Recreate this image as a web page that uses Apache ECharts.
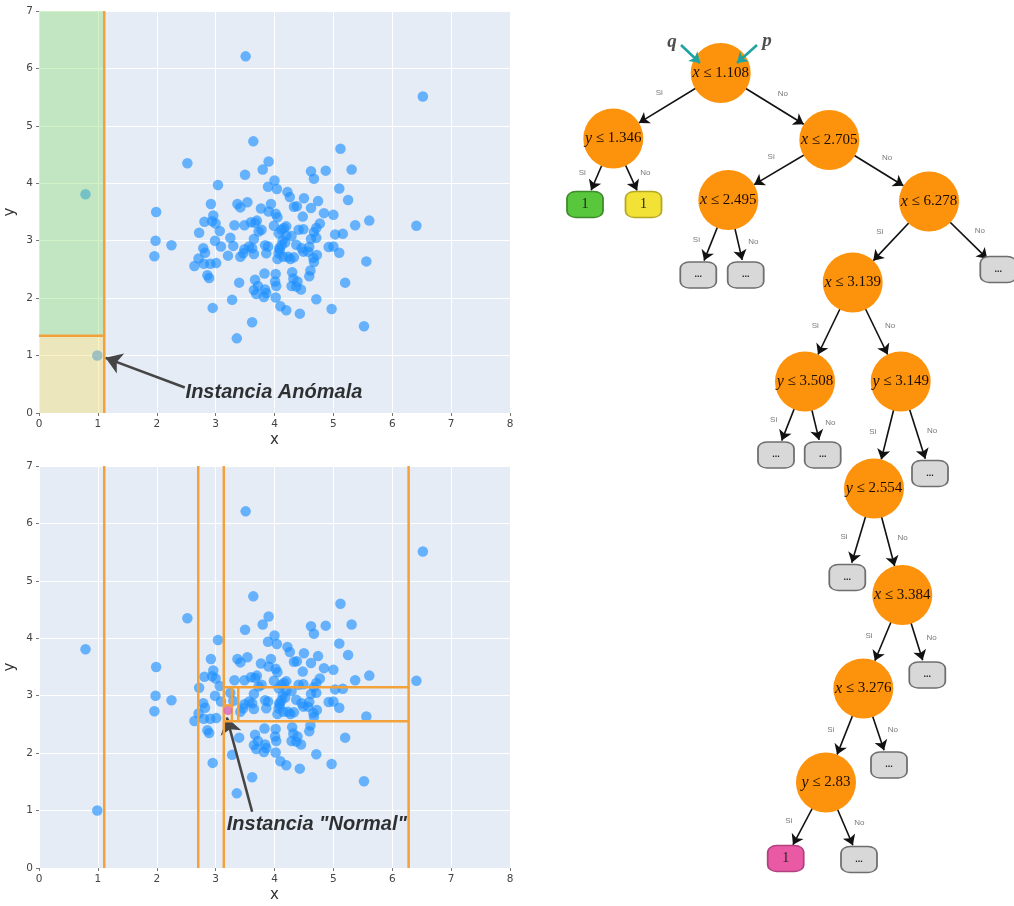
<!DOCTYPE html>
<html><head><meta charset="utf-8">
<script src="https://cdn.jsdelivr.net/npm/echarts@6/dist/echarts.min.js"></script>
<style>html,body{margin:0;padding:0;background:#fff}#c{width:1014px;height:906px}</style>
</head><body><div id="c"></div>
<script>
// ---------- scatter data ----------
const xs = [3.51,6.52,0.79,0.99,6.41,5.52,3.36,3.62,2.52,3.64,
5.12,1.99,1.98,1.96,2.25,5.61,5.56,5.31,4.87,4.62,
4.67,3.50,3.80,3.90,4.00,4.04,3.89,3.04,5.10,5.25,
4.22,4.26,4.50,4.74,4.62,4.33,4.38,2.92,3.37,3.54,
3.42,3.77,3.94,3.90,4.02,4.05,4.48,4.84,5.00,5.37,
2.96,2.81,2.94,3.32,3.49,3.60,3.70,3.73,3.99,4.16,
4.41,4.77,4.71,4.67,5.03,5.16,2.72,3.07,2.99,3.25,
3.30,3.09,3.65,3.62,3.57,3.49,3.42,3.65,4.07,4.14,
4.20,4.08,3.89,3.84,3.86,4.07,4.05,4.23,4.27,4.33,
4.37,4.46,4.49,4.59,4.62,4.66,4.72,4.67,4.92,5.10,
2.79,2.82,2.71,2.64,2.80,2.91,3.01,2.86,2.89,2.95,
3.28,3.40,3.67,3.72,3.65,3.69,3.84,3.86,3.82,3.83,
4.02,4.01,4.03,4.02,4.10,4.20,4.43,4.30,4.32,4.29,
4.39,4.45,4.59,4.61,4.71,4.97,5.20,3.00,3.67,3.78,
4.12,4.20,4.29,4.49,3.47,4.09,4.15,4.57,4.71,5.00,
4.37,4.18,4.12];
const ys = [6.21,5.51,3.81,1.00,3.26,1.51,1.30,1.58,4.35,4.73,
4.60,3.50,3.00,2.73,2.92,3.35,2.64,4.24,4.22,4.21,
4.08,4.15,4.24,4.38,4.05,3.90,3.94,3.97,3.91,3.71,
3.85,3.76,3.74,3.69,3.57,3.59,3.60,3.64,3.64,3.67,
3.58,3.56,3.64,3.51,3.47,3.41,3.42,3.48,3.45,3.27,
3.44,3.33,3.34,3.27,3.27,3.32,3.35,3.16,3.26,3.22,
3.19,3.30,3.22,3.15,3.11,3.12,3.14,3.17,3.00,3.05,
2.91,2.90,3.03,2.87,2.90,2.85,2.72,2.77,3.13,3.01,
3.09,2.87,2.90,2.92,2.78,2.78,2.68,2.72,2.68,2.71,
2.93,2.87,2.81,2.89,3.03,2.70,2.75,2.63,2.89,2.79,
2.87,2.79,2.69,2.56,2.60,2.60,2.61,2.40,2.35,1.83,
1.97,2.27,2.32,2.21,2.14,2.07,2.15,2.09,2.02,2.43,
2.42,2.29,2.21,2.01,1.86,1.79,1.73,2.45,2.34,2.21,
2.29,2.15,2.38,2.48,1.98,1.81,2.27,3.30,3.31,3.19,
3.19,3.25,3.08,3.20,2.78,2.84,2.72,2.81,3.05,2.90,
2.20,2.97,2.92];
const normalX = [3.21];
const normalY = [2.74];

// split thresholds (from the tree)
const topRegions = [ // x0, y0, x1, y1
  [0, 1.346, 1.108, 7],
  [0, 0, 1.108, 1.346]
];
const topRegionColors = ['rgba(140,220,110,0.38)', 'rgba(250,220,90,0.36)'];
const topSplits = [ // x0, y0, x1, y1
  [1.108, 0, 1.108, 7],
  [0, 1.346, 1.108, 1.346]
];
const bottomSplits = [
  [1.108, 0, 1.108, 7],
  [2.705, 0, 2.705, 7],
  [3.139, 0, 3.139, 7],
  [6.278, 0, 6.278, 7],
  [3.139, 3.149, 6.278, 3.149],
  [3.139, 2.554, 6.278, 2.554],
  [3.384, 2.554, 3.384, 3.149],
  [3.276, 2.554, 3.276, 3.149],
  [3.139, 2.83, 3.276, 2.83]
];
const topNote = {text: 'Instancia Anómala', from: [2.476, 0.445], to: [1.13, 0.96], at: [2.49, 0.353]};
const botNote = {text: 'Instancia "Normal"', from: [3.62, 0.98], to: [3.19, 2.62], at: [3.19, 0.765]};

// ---------- tree data ----------
const treeVar = ['x','y','x',null,null,'x','x',null,null,'x',null,'y','y',null,null,'y',null,null,'x','x',null,'y',null,null,null];
const treeThr = [1.108,1.346,2.705,null,null,2.495,6.278,null,null,3.139,null,3.508,3.149,null,null,2.554,null,null,3.384,3.276,null,2.83,null,null,null];
const treeLeaf = [null,null,null,'1','1',null,null,'...','...',null,'...',null,null,'...','...',null,'...','...',null,null,'...',null,'...','1','...'];
const treeLeafKind = [null,null,null,'green','yellow',null,null,'gray','gray',null,'gray',null,null,'gray','gray',null,'gray','gray',null,null,'gray',null,'gray','pink','gray'];
const treeParent = [-1,0,0,1,1,2,2,5,5,6,6,9,9,11,11,12,12,15,15,18,18,19,19,21,21];
const treeBranch = [null,'Si','No','Si','No','Si','No','Si','No','Si','No','Si','No','Si','No','Si','No','Si','No','Si','No','Si','No','Si','No'];
// layout units of the diagram space
const treeX = [720.7,613.3,829.3,585,643.5,728.3,929,698.3,745.7,852.7,998.3,805,900.7,776,822.7,874,930,847.3,902.3,863.3,927.3,826,889,785.7,859];
const treeY = [73,138.5,140,204.5,204.5,200,201.5,275,275,282.5,269.5,381.5,381.5,455,455,488.5,473.5,577.5,595,688.5,675,782.5,765,858.5,859.5];
const rootNotes = [{t:'q', at:[672,42], from:[681,45], to:[700,63]}, {t:'p', at:[767,41], from:[757,45], to:[737,63]}];

const leafStyles = {
  green: {fill:'#58c73c', stroke:'#3d8a2b'},
  yellow:{fill:'#f2e236', stroke:'#b5a820'},
  pink:  {fill:'#ea5aa4', stroke:'#b04080'},
  gray:  {fill:'#d8d8d8', stroke:'#6e6e6e'}
};

const pts = xs.map((x, i) => [x, ys[i]]);
const normalPts = normalX.map((x, i) => [x, normalY[i]]);

// tree graph nodes
const nodes = treeX.map((x, i) => {
  const isLeaf = treeLeaf[i] != null;
  if (!isLeaf) {
    return {
      name: 'n' + i, value: [x, treeY[i]], symbol: 'circle', symbolSize: 60,
      itemStyle: {color: '#fd930c'},
      label: {show: true, position: 'inside', formatter: '{i|' + treeVar[i] + '} ≤ ' + treeThr[i],
        fontFamily: 'Liberation Serif', fontSize: 15, color: '#1e0e00',
        rich: {i: {fontFamily: 'Liberation Serif', fontStyle: 'italic', fontSize: 16, color: '#1e0e00'}}}
    };
  }
  const st = leafStyles[treeLeafKind[i]];
  return {
    name: 'n' + i, value: [x, treeY[i]], symbol: 'roundRect', symbolSize: [36, 26],
    itemStyle: {color: st.fill, borderColor: st.stroke, borderWidth: 1.5},
    label: {show: true, position: 'inside', formatter: treeLeaf[i],
      fontFamily: treeLeaf[i] === '1' ? 'Liberation Serif' : 'Liberation Sans',
      fontSize: treeLeaf[i] === '1' ? 14 : 9, color: '#222', fontWeight: treeLeaf[i] === '1' ? 'normal' : 'bold'}
  };
});
const links = [];
const branchLabels = [];
treeParent.forEach((p, i) => {
  if (p < 0) return;
  links.push({source: 'n' + p, target: 'n' + i});
  const px = treeX[p], py = treeY[p], cx = treeX[i], cy = treeY[i];
  const L = Math.hypot(cx - px, cy - py);
  const dx = (cx - px) / L, dy = (cy - py) / L;
  const rP = 30, rC = treeLeaf[i] != null ? 14 : 30;
  const sx = px + dx * rP, sy = py + dy * rP, ex = cx - dx * rC, ey = cy - dy * rC;
  const mx = (sx + ex) / 2, my = (sy + ey) / 2;
  let nx, ny;
  if (treeBranch[i] === 'Si') { nx = -dy; ny = dx; } else { nx = dy; ny = -dx; }
  if (ny > 0) { nx = -nx; ny = -ny; }
  branchLabels.push({value: [mx + nx * 15, my + ny * 15], label: {formatter: treeBranch[i]}});
});

const axisCommon = (gi, isX) => ({
  gridIndex: gi, type: 'value', min: 0, max: isX ? 8 : 7, interval: 1,
  name: isX ? 'x' : 'y', nameLocation: 'middle', nameGap: isX ? 20 : 21,
  nameTextStyle: {fontSize: 15, color: '#333', fontFamily: 'DejaVu Sans'},
  axisLine: {show: false},
  axisTick: {show: true, length: 3, lineStyle: {color: '#777'}},
  axisLabel: {color: '#444', fontSize: 10.5, margin: 6, fontFamily: 'DejaVu Sans'},
  splitLine: {show: true, lineStyle: {color: '#ffffff', width: 1}}
});

const rectSeries = (gi, regions, colors) => ({
  type: 'custom', xAxisIndex: gi, yAxisIndex: gi, z: 4, silent: true,
  data: regions,
  encode: {x: [0, 2], y: [1, 3]},
  renderItem: (params, api) => {
    const p0 = api.coord([api.value(0), api.value(1)]);
    const p1 = api.coord([api.value(2), api.value(3)]);
    return {type: 'rect', shape: {x: Math.min(p0[0], p1[0]), y: Math.min(p0[1], p1[1]),
      width: Math.abs(p1[0] - p0[0]), height: Math.abs(p1[1] - p0[1])},
      style: {fill: colors[params.dataIndex]}};
  }
});
const lineSeries = (gi, segs) => ({
  type: 'custom', xAxisIndex: gi, yAxisIndex: gi, z: 5, silent: true,
  data: segs,
  encode: {x: [0, 2], y: [1, 3]},
  renderItem: (params, api) => {
    const p0 = api.coord([api.value(0), api.value(1)]);
    const p1 = api.coord([api.value(2), api.value(3)]);
    return {type: 'line', shape: {x1: p0[0], y1: p0[1], x2: p1[0], y2: p1[1]},
      style: {stroke: '#f3a13a', lineWidth: 2.5}};
  }
});
const noteSeries = (gi, note) => ({
  type: 'scatter', xAxisIndex: gi, yAxisIndex: gi, z: 10, silent: true, symbolSize: 0,
  data: [note.at],
  label: {show: true, position: 'right', distance: 0, formatter: note.text,
    fontSize: 20, fontStyle: 'italic', fontWeight: 'bold', fontFamily: 'Liberation Sans', color: '#000'},
  markLine: {silent: true, animation: false, symbol: ['none', 'arrow'], symbolSize: 16,
    label: {show: false}, lineStyle: {color: '#454545', width: 2.6, type: 'solid'},
    itemStyle: {color: '#454545'},
    emphasis: {disabled: true},
    data: [[{coord: note.from}, {coord: note.to}]]}
});
const blue = 'rgba(30,144,255,0.8)';

const option = {
  backgroundColor: '#ffffff',
  animation: false,
  grid: [
    {left: 39, top: 11, width: 471, height: 402, show: true, backgroundColor: '#e5ecf6', borderWidth: 0},
    {left: 39, top: 466, width: 471, height: 402, show: true, backgroundColor: '#e5ecf6', borderWidth: 0},
    {left: 540, top: 0, width: 474, height: 906, show: false}
  ],
  xAxis: [axisCommon(0, true), axisCommon(1, true),
    {gridIndex: 2, type: 'value', min: 540, max: 1014, show: false}],
  yAxis: [axisCommon(0, false), axisCommon(1, false),
    {gridIndex: 2, type: 'value', min: 0, max: 906, inverse: true, show: false}],
  series: [
    // top chart
    {type: 'scatter', xAxisIndex: 0, yAxisIndex: 0, z: 2, symbolSize: 10.5, data: pts, itemStyle: {color: blue}},
    {type: 'scatter', xAxisIndex: 0, yAxisIndex: 0, z: 2, symbolSize: 10.5, data: normalPts, itemStyle: {color: blue}},
    rectSeries(0, topRegions, topRegionColors),
    lineSeries(0, topSplits),
    noteSeries(0, topNote),
    // bottom chart
    {type: 'scatter', xAxisIndex: 1, yAxisIndex: 1, z: 2, symbolSize: 10.5, data: pts, itemStyle: {color: blue}},
    lineSeries(1, bottomSplits),
    {type: 'scatter', xAxisIndex: 1, yAxisIndex: 1, z: 6, symbolSize: 9, data: normalPts, itemStyle: {color: '#d866b8'}},
    noteSeries(1, botNote),
    // tree
    {type: 'graph', coordinateSystem: 'cartesian2d', xAxisIndex: 2, yAxisIndex: 2, z: 3,
      data: nodes, links: links, silent: true,
      edgeSymbol: ['none', 'arrow'], edgeSymbolSize: [0, 10],
      lineStyle: {color: '#111', width: 1.6, opacity: 1, curveness: 0}},
    {type: 'scatter', xAxisIndex: 2, yAxisIndex: 2, z: 4, symbolSize: 0, silent: true,
      data: branchLabels,
      label: {show: true, position: 'inside', fontSize: 8, color: '#555', fontFamily: 'Liberation Sans'}},
    {type: 'scatter', xAxisIndex: 2, yAxisIndex: 2, z: 6, symbolSize: 0, silent: true,
      data: rootNotes.map(n => ({value: n.at, label: {formatter: n.t}})),
      label: {show: true, position: 'inside', fontSize: 19, fontStyle: 'italic', fontWeight: 'bold', color: '#222', fontFamily: 'Liberation Serif'},
      markLine: {silent: true, animation: false, symbol: ['none', 'arrow'], symbolSize: 10,
        label: {show: false}, lineStyle: {color: '#1fa3a0', width: 2.6, type: 'solid'},
        itemStyle: {color: '#1fa3a0'},
        emphasis: {disabled: true},
        data: rootNotes.map(n => [{coord: n.from}, {coord: n.to}])}}
  ]
};
const chart = echarts.init(document.getElementById('c'), null, {renderer: 'canvas'});
chart.setOption(option);
</script></body></html>
